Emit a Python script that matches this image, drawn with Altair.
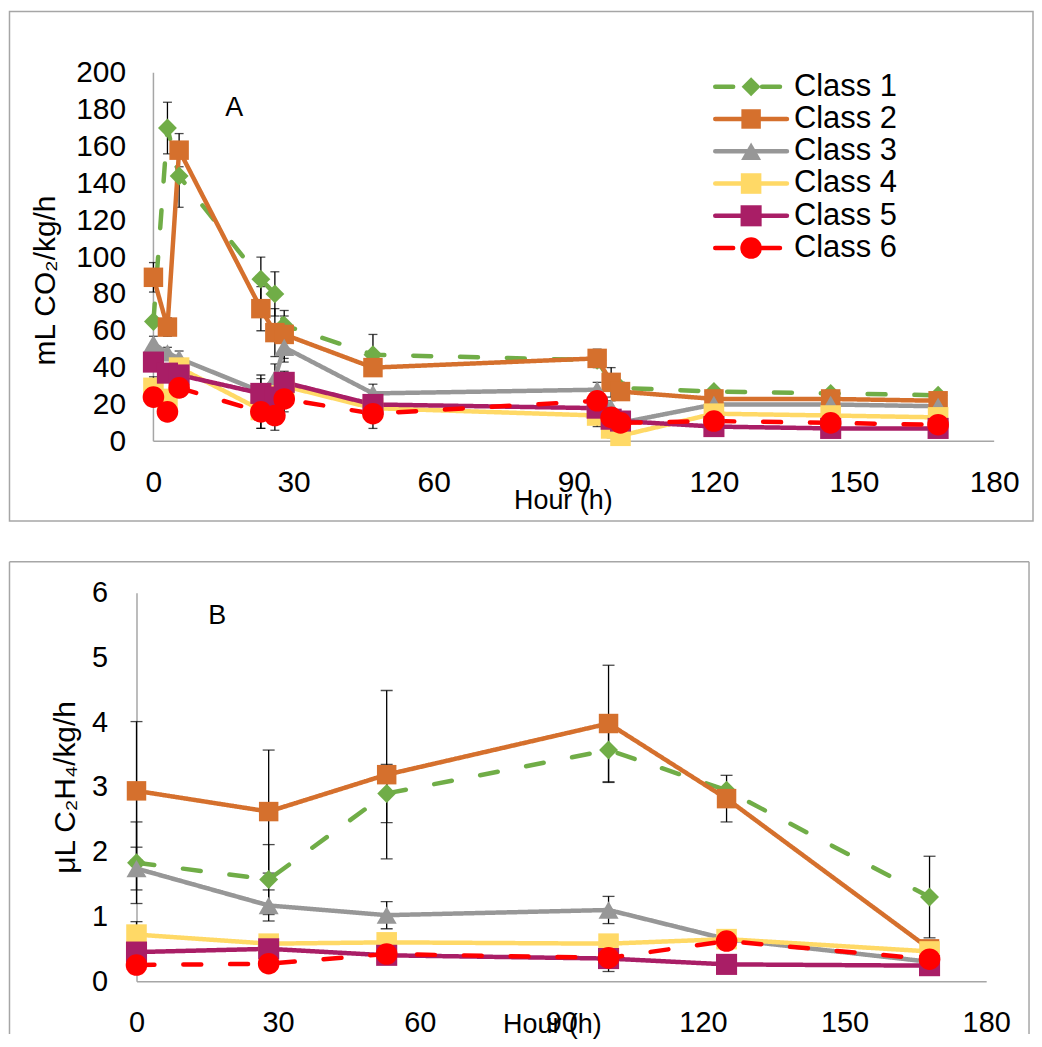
import altair as alt
import pandas as pd

FONT = "Liberation Sans, Arial, Helvetica, sans-serif"

SERIES = ["Class 1", "Class 2", "Class 3", "Class 4", "Class 5", "Class 6"]
SHAPES = ["diamond", "square", "triangle-up", "square", "square", "circle"]
SIZES = [360, 470, 480, 470, 470, 400]
COLORS_A = ["#70AD47", "#D5702D", "#979797", "#FFD966", "#A91E66", "#FF0000"]
COLORS_B = ["#70AD47", "#ED7D31", "#A5A5A5", "#FFD966", "#A91E66", "#FF0000"]
PANEL_LABELS = ["A", "B"]

# ---- Panel A: CO2 production (mL CO2/kg/h) ----
HOURS_A = [0, 3, 5.5, 23, 26, 28, 47, 95, 98, 100, 120, 145, 168]
CO2_C1 = [65, 170, 144, 88, 80, 63, 47, 44, 32, 29, 27, 26, 25]
CO2_C2 = [89, 62, 158, 72, 59, 58, 40, 45, 32, 27, 23, 23, 22]
CO2_C3 = [53, 48, 45, 27, 34, 51, 26, 28, 18, 10, 20, 20, 19]
CO2_C4 = [29, 23, 40, 17, 25, 30, 18, 14, 7, 3, 15, 14, 13]
CO2_C5 = [43, 37, 36, 26, 24, 32, 20, 18, 12, 11, 8, 7, 7]
CO2_C6 = [24, 16, 29, 16, 14, 23, 15, 22, 13, 10, 11, 10, 9]
CO2_E1 = [0, 14, 17, 12, 12, 5, 11, 3, 4, 3, 0, 0, 0]
CO2_E2 = [8, 5, 9, 12, 13, 13, 4, 5, 8, 4, 0, 0, 0]
CO2_E3 = [4, 3, 4, 9, 8, 8, 5, 4, 4, 3, 0, 0, 0]
CO2_E4 = [6, 5, 4, 10, 6, 5, 4, 6, 5, 3, 0, 0, 0]
CO2_E5 = [4, 4, 3, 8, 6, 6, 3, 4, 4, 3, 0, 0, 0]
CO2_E6 = [4, 4, 5, 9, 8, 7, 8, 6, 5, 4, 0, 0, 0]

# ---- Panel B: ethylene production (uL C2H4/kg/h) ----
HOURS_B = [0, 28, 53, 100, 125, 168]
ETH_C1 = [1.83, 1.57, 2.9, 3.57, 2.95, 1.3]
ETH_C2 = [2.94, 2.62, 3.19, 3.98, 2.82, 0.5]
ETH_C3 = [1.74, 1.17, 1.02, 1.1, 0.65, 0.3]
ETH_C4 = [0.72, 0.58, 0.6, 0.58, 0.65, 0.46]
ETH_C5 = [0.45, 0.5, 0.4, 0.35, 0.26, 0.24]
ETH_C6 = [0.25, 0.27, 0.42, 0.36, 0.62, 0.34]
ETH_E1 = [0.63, 0.54, 0.45, 0.5, 0.0, 0.63]
ETH_E2 = [1.07, 0.95, 1.3, 0.9, 0.36, 0.0]
ETH_E3 = [0.33, 0.24, 0.21, 0.21, 0.0, 0.0]
ETH_E4 = [0.2, 0.0, 0.0, 0.0, 0.0, 0.0]
ETH_E5 = [0.0, 0.0, 0.0, 0.2, 0.0, 0.0]
ETH_E6 = [0.0, 0.0, 0.0, 0.0, 0.0, 0.0]

X_TICKS = [0, 30, 60, 90, 120, 150, 180]


def to_long(hours, values, errors):
    rows = []
    for s, vals, errs in zip(SERIES, values, errors):
        for h, v, e in zip(hours, vals, errs):
            rows.append({"series": s, "hour": h, "value": v, "err": e})
    return pd.DataFrame(rows)


df_a = to_long(HOURS_A, [CO2_C1, CO2_C2, CO2_C3, CO2_C4, CO2_C5, CO2_C6],
               [CO2_E1, CO2_E2, CO2_E3, CO2_E4, CO2_E5, CO2_E6])
df_b = to_long(HOURS_B, [ETH_C1, ETH_C2, ETH_C3, ETH_C4, ETH_C5, ETH_C6],
               [ETH_E1, ETH_E2, ETH_E3, ETH_E4, ETH_E5, ETH_E6])

dash_scale = alt.Scale(domain=SERIES, range=[[18, 29], [1, 0], [1, 0], [1, 0], [1, 0], [18, 29]])
shape_scale = alt.Scale(domain=SERIES, range=SHAPES)
size_scale = alt.Scale(domain=SERIES, range=SIZES)
dummy = pd.DataFrame({"d": [0]})
FRAME = "#A6A6A6"


def data_layers(df, colors, xs, ys, xa, ya, cap):
    cscale = alt.Scale(domain=SERIES, range=colors)
    base = alt.Chart(df)
    err = base.transform_filter("datum.err > 0").transform_calculate(
        lo="datum.value - datum.err", hi="datum.value + datum.err")
    bars = err.mark_rule(color="black", strokeWidth=1.3).encode(
        x=alt.X("hour:Q", scale=xs, axis=xa), y=alt.Y("lo:Q", scale=ys, axis=ya), y2="hi:Q")
    cap_lo = err.mark_tick(color="black", thickness=1.3, size=cap, orient="horizontal").encode(
        x=alt.X("hour:Q", scale=xs, axis=xa), y=alt.Y("lo:Q", scale=ys, axis=ya))
    cap_hi = err.mark_tick(color="black", thickness=1.3, size=cap, orient="horizontal").encode(
        x=alt.X("hour:Q", scale=xs, axis=xa), y=alt.Y("hi:Q", scale=ys, axis=ya))
    lines = base.mark_line(strokeWidth=4.5, strokeCap="round", strokeJoin="round").encode(
        x=alt.X("hour:Q", scale=xs, axis=xa),
        y=alt.Y("value:Q", scale=ys, axis=ya),
        color=alt.Color("series:N", scale=cscale, legend=None),
        strokeDash=alt.StrokeDash("series:N", scale=dash_scale, legend=None),
    )
    points = base.mark_point(filled=True, opacity=1, strokeWidth=0).encode(
        x=alt.X("hour:Q", scale=xs, axis=xa),
        y=alt.Y("value:Q", scale=ys, axis=ya),
        color=alt.Color("series:N", scale=cscale, legend=None),
        shape=alt.Shape("series:N", scale=shape_scale, legend=None),
        size=alt.Size("series:N", scale=size_scale, legend=None),
    )
    return [bars, cap_lo, cap_hi, lines, points]


def panel_label(label, px, py):
    return alt.Chart(pd.DataFrame({"lab": [label]})).mark_text(
        font=FONT, fontSize=27, color="black", align="center", baseline="middle"
    ).encode(x=alt.value(px), y=alt.value(py), text="lab:N")


# ---------------- Panel A ----------------
W_A, H_A = 861, 370
xs_a = alt.Scale(domain=[-3.6256, 180], nice=False, zero=False)
ys_a = alt.Scale(domain=[0, 200], nice=False)
xa_a = alt.Axis(values=X_TICKS, domain=False, ticks=False, tickSize=0, grid=False,
                labelFontSize=30, labelPadding=41, labelBaseline="middle", labelFlush=False,
                labelOverlap=False, title="Hour (h)", titleFontSize=27, titleX=428, titleY=59,
                titleBaseline="middle", titleAlign="center")
ya_a = alt.Axis(values=list(range(0, 201, 20)), domain=False, ticks=False, tickSize=0, grid=False,
                labelFontSize=30, labelPadding=11, labelOverlap=False,
                title="mL CO₂/kg/h", titleFontSize=30, titleX=-91, titleY=208,
                titleBaseline="middle", titleAlign="center", titleAngle=-90)

frame_a = alt.Chart(dummy).mark_rect(fillOpacity=0, stroke=FRAME, strokeWidth=1.5).encode(
    x=alt.value(-127.5), x2=alt.value(900), y=alt.value(-61.5), y2=alt.value(450))
axes_df_a = pd.DataFrame({"x0": [0], "x1": [180], "y0": [0], "y1": [200]})
xline_a = alt.Chart(axes_df_a).mark_rule(color=FRAME, strokeWidth=1.5).encode(
    x=alt.X("x0:Q", scale=xs_a, axis=xa_a), x2="x1:Q", y=alt.Y("y0:Q", scale=ys_a, axis=ya_a))
yline_a = alt.Chart(axes_df_a).mark_rule(color=FRAME, strokeWidth=1.5).encode(
    x=alt.X("x0:Q", scale=xs_a, axis=xa_a), y=alt.Y("y0:Q", scale=ys_a, axis=ya_a), y2="y1:Q")
label_a = panel_label(PANEL_LABELS[0], 98, 35)

main_a = alt.layer(frame_a, xline_a, yline_a,
                   *data_layers(df_a, COLORS_A, xs_a, ys_a, xa_a, ya_a, 9), label_a)

leg_df = pd.DataFrame({"series": SERIES})
leg_y = alt.Y("series:N", scale=alt.Scale(type="point", domain=SERIES, range=[14, 176], padding=0),
              axis=None)
cscale_a = alt.Scale(domain=SERIES, range=COLORS_A)
leg_line = alt.Chart(leg_df).mark_rule(strokeWidth=4.5, strokeCap="round").encode(
    x=alt.value(581), x2=alt.value(653), y=leg_y,
    color=alt.Color("series:N", scale=cscale_a, legend=None),
    strokeDash=alt.StrokeDash("series:N", scale=dash_scale, legend=None))
leg_pt = alt.Chart(leg_df).mark_point(filled=True, opacity=1, strokeWidth=0).encode(
    x=alt.value(617), y=leg_y,
    color=alt.Color("series:N", scale=cscale_a, legend=None),
    shape=alt.Shape("series:N", scale=shape_scale, legend=None),
    size=alt.Size("series:N", scale=size_scale, legend=None))
leg_txt = alt.Chart(leg_df).mark_text(align="left", baseline="middle", fontSize=31, font=FONT,
                                      color="black").encode(
    x=alt.value(660), y=leg_y, text="series:N")
legend_a = alt.layer(leg_line, leg_pt, leg_txt)

chart_a = alt.layer(main_a, legend_a).resolve_scale(y="independent").properties(
    width=W_A, height=H_A)

# ---------------- Panel B ----------------
W_B, H_B = 853, 390
xs_b = alt.Scale(domain=[0, 180], nice=False)
ys_b = alt.Scale(domain=[0, 6], nice=False)
xa_b = alt.Axis(values=X_TICKS, domain=True, domainColor=FRAME, domainWidth=1.5, ticks=False,
                tickSize=0, grid=False, labelFontSize=29, labelPadding=41, labelBaseline="middle",
                labelFlush=False, labelOverlap=False, title="Hour (h)", titleFontSize=27,
                titleX=417, titleY=43, titleBaseline="middle", titleAlign="center")
ya_b = alt.Axis(values=[0, 1, 2, 3, 4, 5, 6], domain=True, domainColor=FRAME, domainWidth=1.5,
                ticks=False, tickSize=0, grid=False, labelFontSize=29, labelPadding=29,
                labelOverlap=False, title="μL C₂H₄/kg/h", titleFontSize=30, titleX=-71,
                titleY=195, titleBaseline="middle", titleAlign="center", titleAngle=-90)

frame_b_top = alt.Chart(dummy).mark_rule(color=FRAME, strokeWidth=1.5).encode(
    x=alt.value(-127.5), x2=alt.value(896), y=alt.value(-31))
frame_b_left = alt.Chart(dummy).mark_rule(color=FRAME, strokeWidth=1.5).encode(
    x=alt.value(-127.5), y=alt.value(-31), y2=alt.value(443))
frame_b_right = alt.Chart(dummy).mark_rule(color=FRAME, strokeWidth=1.5).encode(
    x=alt.value(896), y=alt.value(-31), y2=alt.value(443))
label_b = panel_label(PANEL_LABELS[1], 81, 23.5)

chart_b = alt.layer(frame_b_top, frame_b_left, frame_b_right,
                    *data_layers(df_b, COLORS_B, xs_b, ys_b, xa_b, ya_b, 12),
                    label_b).properties(width=W_B, height=H_B)

chart = alt.vconcat(chart_a, chart_b, spacing=152, bounds="flush").properties(
    padding=0, background="white"
).configure_view(stroke=None).configure_axis(
    labelFont=FONT, titleFont=FONT, labelColor="black", titleColor="black",
    titleFontWeight="normal"
)

chart.save("out.html", embed_options={"renderer": "svg", "actions": False})
